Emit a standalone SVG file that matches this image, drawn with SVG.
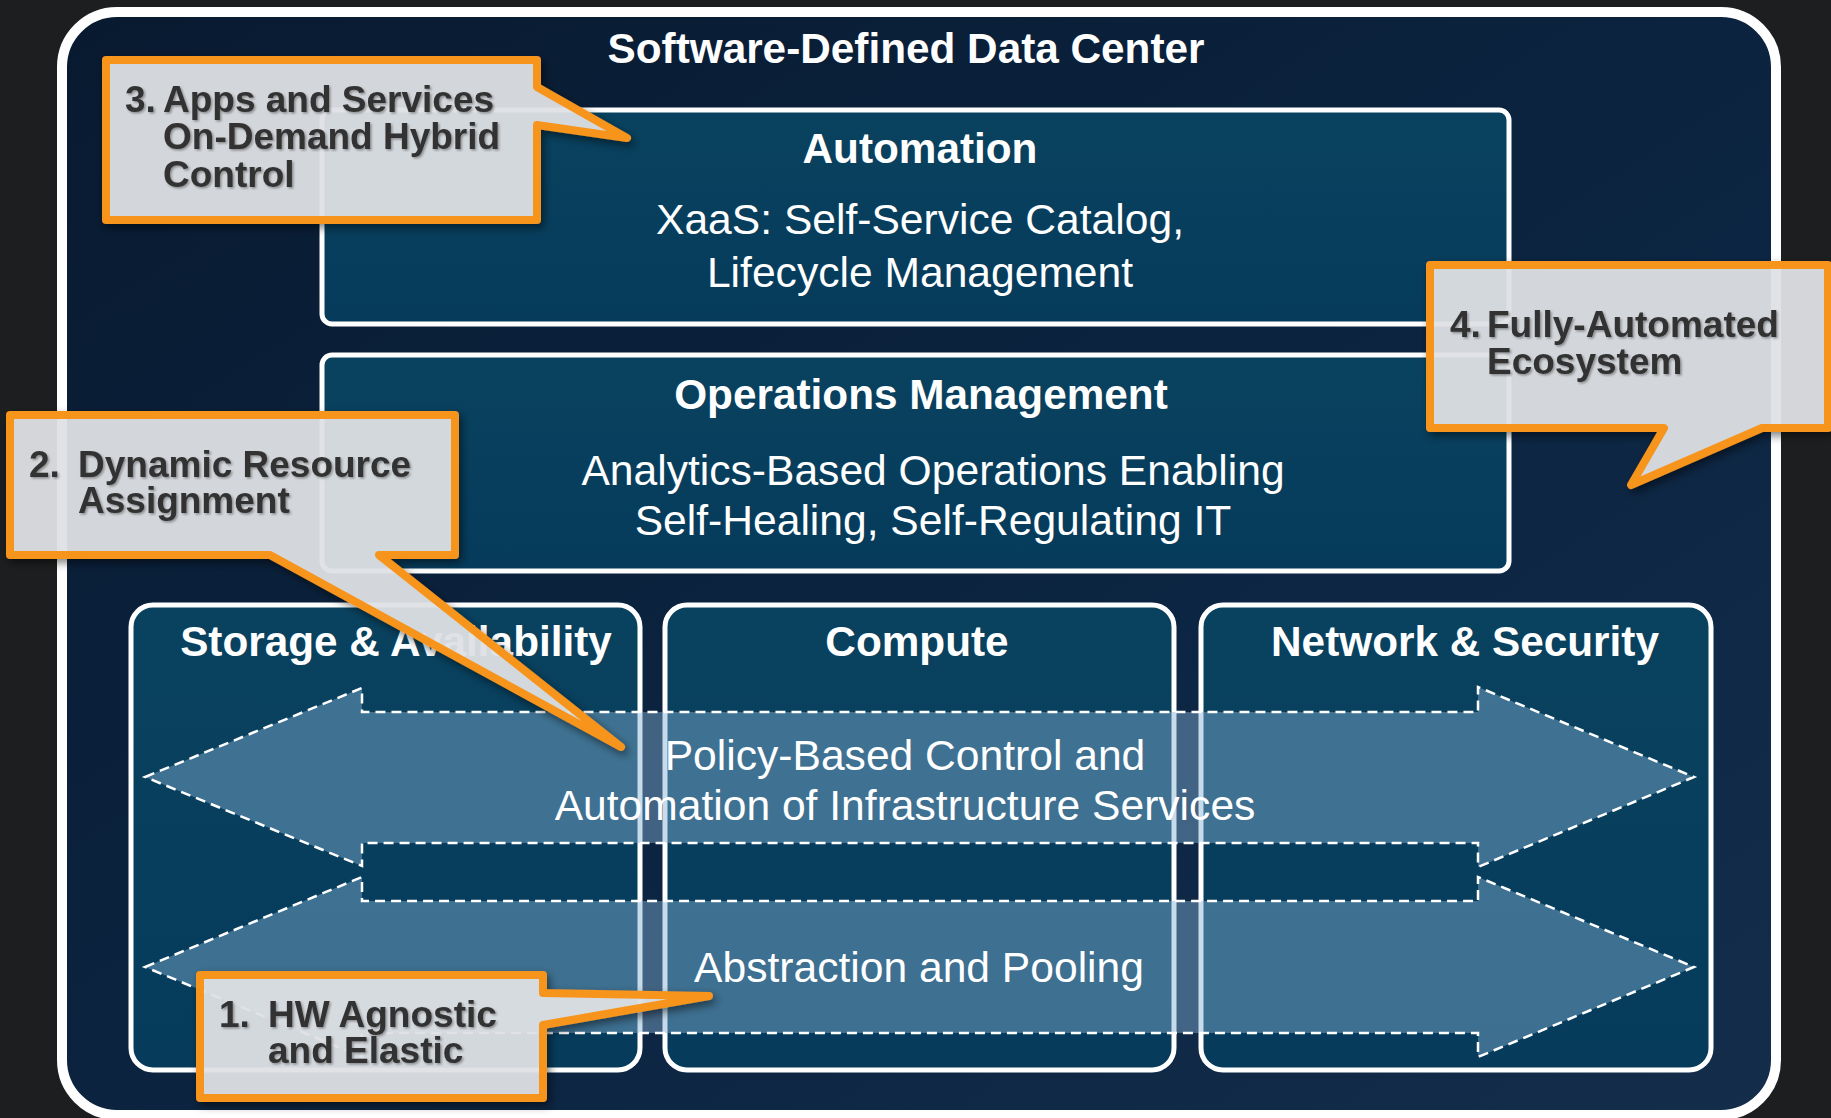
<svg xmlns="http://www.w3.org/2000/svg" width="1831" height="1118" viewBox="0 0 1831 1118">
  <defs>
    <linearGradient id="navy" x1="0" y1="0" x2="1" y2="1">
      <stop offset="0" stop-color="#081a30"/>
      <stop offset="0.6" stop-color="#0c2542"/>
      <stop offset="1" stop-color="#132d4b"/>
    </linearGradient>
    <linearGradient id="boxfill" x1="0" y1="0" x2="0" y2="1">
      <stop offset="0" stop-color="#09425f"/>
      <stop offset="1" stop-color="#063b5b"/>
    </linearGradient>
    <filter id="shadow" x="-10%" y="-10%" width="130%" height="130%">
      <feDropShadow dx="3" dy="4" stdDeviation="4" flood-color="#000" flood-opacity="0.5"/>
    </filter>
    <filter id="tshadow" x="-5%" y="-20%" width="110%" height="140%">
      <feDropShadow dx="1.5" dy="1.5" stdDeviation="1" flood-color="#000" flood-opacity="0.35"/>
    </filter>
  </defs>
  <style>
    .box { fill: url(#boxfill); stroke: #ffffff; stroke-width: 5; }
    .hdr { font-family: "Liberation Sans", Arial, sans-serif; font-weight: bold; font-size: 42.3px; fill: #ffffff; text-anchor: middle; }
    .body { font-family: "Liberation Sans", Arial, sans-serif; font-size: 42.6px; fill: #ffffff; text-anchor: middle; }
    .arrow { fill: rgb(130,175,210); fill-opacity: 0.45; stroke: #ffffff; stroke-width: 2.5; stroke-dasharray: 10 6; }
    .callout { fill: #e3e6e9; fill-opacity: 0.9; stroke: #f7941d; stroke-width: 8; stroke-linejoin: round; }
    .ct { font-family: "Liberation Sans", Arial, sans-serif; font-weight: bold; font-size: 37px; fill: #333333; }
  </style>

  <rect x="0" y="0" width="1831" height="1118" fill="#1d1e1f"/>

  <g id="container">
    <rect x="62" y="12" width="1714" height="1103" rx="55" fill="url(#navy)" stroke="#ffffff" stroke-width="10"/>
    <text class="hdr" x="906" y="63">Software-Defined Data Center</text>
  </g>

  <g id="automation">
    <rect class="box" x="322" y="110" width="1187" height="214" rx="10"/>
    <text class="hdr" x="920" y="163">Automation</text>
    <text class="body" x="920" y="234">XaaS: Self-Service Catalog,</text>
    <text class="body" x="920" y="287">Lifecycle Management</text>
  </g>

  <g id="operations">
    <rect class="box" x="322" y="355" width="1187" height="216" rx="10"/>
    <text class="hdr" x="921" y="409">Operations Management</text>
    <text class="body" x="933" y="485">Analytics-Based Operations Enabling</text>
    <text class="body" x="933" y="535">Self-Healing, Self-Regulating IT</text>
  </g>

  <g id="storage">
    <rect class="box" x="131" y="605" width="509" height="465" rx="22"/>
    <text class="hdr" x="396" y="656">Storage &amp; Availability</text>
  </g>

  <g id="compute">
    <rect class="box" x="665" y="605" width="509" height="465" rx="22"/>
    <text class="hdr" x="917" y="656">Compute</text>
  </g>

  <g id="network">
    <rect class="box" x="1201" y="605" width="510" height="465" rx="22"/>
    <text class="hdr" x="1465" y="656">Network &amp; Security</text>
  </g>

  <g id="connectors">
    <g id="policy-arrow">
      <polygon class="arrow" points="145,777 362,688 362,712 1478,712 1478,687 1694,777 1478,867 1478,843 362,843 362,866"/>
      <text class="body" x="905" y="770">Policy-Based Control and</text>
      <text class="body" x="905" y="820">Automation of Infrastructure Services</text>
    </g>
    <g id="abstraction-arrow">
      <polygon class="arrow" points="145,967 362,877 362,901 1478,901 1478,877 1694,967 1478,1057 1478,1033 362,1033 362,1057"/>
      <text class="body" x="919" y="982">Abstraction and Pooling</text>
    </g>
  </g>

  <g id="callout-3" filter="url(#shadow)">
    <path class="callout" d="M106,60 H537 V87 L627,138 L537,125 V220 H106 Z"/>
    <g filter="url(#tshadow)">
      <text class="ct" x="125" y="112">3.</text>
      <text class="ct" x="163" y="112">Apps and Services</text>
      <text class="ct" x="163" y="149">On-Demand Hybrid</text>
      <text class="ct" x="163" y="187">Control</text>
    </g>
  </g>

  <g id="callout-2" filter="url(#shadow)">
    <path class="callout" d="M10,415 H455 V555 H379 L621,747 L270,555 H10 Z"/>
    <g filter="url(#tshadow)">
      <text class="ct" x="29" y="477">2.</text>
      <text class="ct" x="78" y="477">Dynamic Resource</text>
      <text class="ct" x="78" y="513">Assignment</text>
    </g>
  </g>

  <g id="callout-4" filter="url(#shadow)">
    <path class="callout" d="M1430,265 H1828 V428 H1762 L1631,485 L1664,428 H1430 Z"/>
    <g filter="url(#tshadow)">
      <text class="ct" x="1450" y="337">4.</text>
      <text class="ct" x="1487" y="337">Fully-Automated</text>
      <text class="ct" x="1487" y="374">Ecosystem</text>
    </g>
  </g>

  <g id="callout-1" filter="url(#shadow)">
    <path class="callout" d="M200,975 H543 V993 L709,996 L543,1025 V1098 H200 Z"/>
    <g filter="url(#tshadow)">
      <text class="ct" x="219" y="1027">1.</text>
      <text class="ct" x="268" y="1027">HW Agnostic</text>
      <text class="ct" x="268" y="1063">and Elastic</text>
    </g>
  </g>
</svg>
